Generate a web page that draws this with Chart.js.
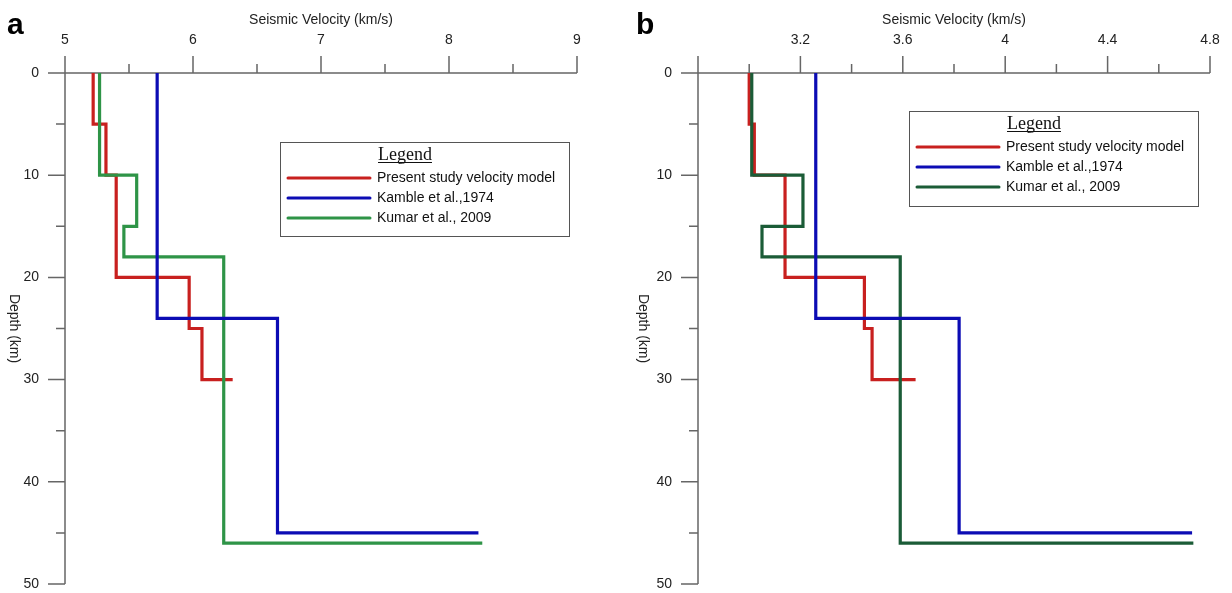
<!DOCTYPE html>
<html><head><meta charset="utf-8">
<script src="https://cdn.jsdelivr.net/npm/chart.js@4.4.1/dist/chart.umd.min.js"></script>
<style>
html,body{margin:0;padding:0;background:#fff;width:1232px;height:593px;overflow:hidden}
canvas{position:absolute;top:0}
#ca{left:0}
#cb{left:616px}
</style></head><body>
<canvas id="ca" width="616" height="593"></canvas>
<canvas id="cb" width="616" height="593"></canvas>
<script>
// ---- Data: layer top depths (km) and velocities (km/s); last velocity = half-space stub ----
const aPresentDepth = [0, 5, 10, 20, 25, 30];
const aPresentVel   = [5.22, 5.32, 5.40, 5.97, 6.07, 6.31];
const aKambleDepth  = [0, 24, 45];
const aKambleVel    = [5.72, 6.66, 8.23];
const aKumarDepth   = [0, 10, 15, 18, 46];
const aKumarVel     = [5.27, 5.56, 5.46, 6.24, 8.26];

const bPresentDepth = [0, 5, 10, 20, 25, 30];
const bPresentVel   = [3.00, 3.02, 3.14, 3.45, 3.48, 3.65];
const bKambleDepth  = [0, 24, 45];
const bKambleVel    = [3.26, 3.82, 4.73];
const bKumarDepth   = [0, 10, 15, 18, 46];
const bKumarVel     = [3.01, 3.21, 3.05, 3.59, 4.735];

const seriesNames = ['Present study velocity model', 'Kamble et al.,1974', 'Kumar et al., 2009'];
const aXTickLabels = [5, 6, 7, 8, 9];
const bXTickLabels = [3.2, 3.6, 4, 4.4, 4.8];
const depthTickLabels = [0, 10, 20, 30, 40, 50];

function stepPoints(depths, vels) {
  const pts = [];
  for (let i = 0; i < depths.length - 1; i++) {
    pts.push({x: vels[i], y: depths[i]});
    pts.push({x: vels[i], y: depths[i + 1]});
  }
  const n = depths.length - 1;
  pts.push({x: vels[n], y: depths[n]});
  return pts;
}

Chart.defaults.font.family = '"Liberation Sans", Arial, sans-serif';
Chart.defaults.font.size = 14;
Chart.defaults.color = '#222';

const AXIS_COLOR = '#666';

const axesPlugin = {
  id: 'axesDraw',
  beforeDatasetsDraw(chart, args, o) {
    const ctx = chart.ctx, ca = chart.chartArea;
    const xs = chart.scales.x, ys = chart.scales.y;
    ctx.save();
    ctx.strokeStyle = AXIS_COLOR;
    ctx.lineWidth = 1.5;
    ctx.beginPath();
    ctx.moveTo(ca.left, ca.top); ctx.lineTo(ca.right, ca.top);
    ctx.moveTo(ca.left, ca.top); ctx.lineTo(ca.left, ca.bottom);
    xs.ticks.forEach((t, i) => {
      const px = xs.getPixelForValue(t.value);
      const len = i % 2 === 0 ? 17 : 9;
      ctx.moveTo(px, ca.top); ctx.lineTo(px, ca.top - len);
    });
    ys.ticks.forEach((t, i) => {
      const py = ys.getPixelForValue(t.value);
      const len = i % 2 === 0 ? 17 : 9;
      ctx.moveTo(ca.left, py); ctx.lineTo(ca.left - len, py);
    });
    ctx.stroke();
    // y-axis title, rotated clockwise
    ctx.fillStyle = '#222';
    ctx.font = '14px "Liberation Sans", Arial, sans-serif';
    ctx.translate(o.yTitleX, (ca.top + ca.bottom) / 2);
    ctx.rotate(Math.PI / 2);
    ctx.textAlign = 'center';
    ctx.textBaseline = 'middle';
    ctx.fillText('Depth (km)', 0, 0);
    ctx.restore();
    // panel letter
    ctx.save();
    ctx.fillStyle = '#000';
    ctx.font = 'bold 30px "Liberation Sans", Arial, sans-serif';
    ctx.textAlign = 'left';
    ctx.textBaseline = 'alphabetic';
    ctx.fillText(o.letter, o.letterX, o.letterY);
    ctx.restore();
  }
};

const legendPlugin = {
  id: 'boxLegend',
  afterDatasetsDraw(chart, args, o) {
    const ctx = chart.ctx;
    const x = o.x, y = o.y;
    ctx.save();
    ctx.fillStyle = '#fff';
    ctx.fillRect(x, y, o.w, o.h);
    ctx.strokeStyle = '#555';
    ctx.lineWidth = 1;
    ctx.strokeRect(x + 0.5, y + 0.5, o.w, o.h);
    ctx.fillStyle = '#111';
    ctx.font = '18px "Liberation Serif", "Times New Roman", serif';
    ctx.textAlign = 'center';
    ctx.textBaseline = 'alphabetic';
    const tx = x + 125, ty = y + 18;
    ctx.fillText('Legend', tx, ty);
    const tw = ctx.measureText('Legend').width;
    ctx.strokeStyle = '#111';
    ctx.beginPath();
    ctx.moveTo(tx - tw / 2, ty + 2.5); ctx.lineTo(tx + tw / 2, ty + 2.5);
    ctx.stroke();
    ctx.font = '14px "Liberation Sans", Arial, sans-serif';
    ctx.textAlign = 'left';
    ctx.textBaseline = 'middle';
    chart.data.datasets.forEach((ds, i) => {
      const ry = y + 36 + i * 20;
      ctx.strokeStyle = ds.borderColor;
      ctx.lineWidth = 3;
      ctx.lineCap = 'round';
      ctx.beginPath();
      ctx.moveTo(x + 8, ry); ctx.lineTo(x + 90, ry);
      ctx.stroke();
      ctx.fillStyle = '#111';
      ctx.fillText(ds.label, x + 97, ry);
    });
    ctx.restore();
  }
};

function makeChart(id, sets, colors, cfg) {
  const datasets = sets.map((s, i) => ({
    label: seriesNames[i],
    data: stepPoints(s[0], s[1]),
    borderColor: colors[i],
    borderWidth: 3.2,
    pointRadius: 0,
    showLine: true,
    tension: 0,
    fill: false,
    borderJoinStyle: 'miter',
    borderCapStyle: 'butt',
    order: [3, 1, 2][i]
  }));
  const pad = {left: 0, right: cfg.area.right0, top: 0, bottom: 9};
  const dims = {yWidth: cfg.area.left, xHeight: cfg.area.top};
  const chart = new Chart(document.getElementById(id), {
    type: 'scatter',
    data: {datasets},
    options: {
      responsive: false,
      animation: false,
      devicePixelRatio: 1,
      layout: {padding: pad},
      plugins: {
        legend: {display: false},
        tooltip: {enabled: false},
        axesDraw: cfg.axes,
        boxLegend: cfg.legend
      },
      scales: {
        x: {
          type: 'linear', position: 'top',
          min: cfg.xMin, max: cfg.xMax,
          grid: {display: true, drawOnChartArea: false, drawTicks: true, tickLength: 24, tickColor: 'rgba(0,0,0,0)'},
          border: {display: false},
          ticks: {
            stepSize: cfg.xStep, autoSkip: false, maxRotation: 0, padding: 0,
            callback: (v) => {
              const l = cfg.xLabels.find(q => Math.abs(q - v) < 1e-6);
              return l === undefined ? '' : String(l);
            }
          },
          title: {display: true, text: 'Seismic Velocity (km/s)', padding: {top: 12, bottom: 0}, font: {size: 14}},
          afterFit: (s) => { s.height = dims.xHeight; }
        },
        y: {
          type: 'linear', reverse: true, min: 0, max: 50,
          grid: {display: true, drawOnChartArea: false, drawTicks: true, tickLength: 26, tickColor: 'rgba(0,0,0,0)'},
          border: {display: false},
          ticks: {
            stepSize: 5, autoSkip: false, padding: 0,
            callback: (v) => depthTickLabels.includes(v) ? String(v) : ''
          },
          afterFit: (s) => { s.width = dims.yWidth; }
        }
      }
    },
    plugins: [axesPlugin, legendPlugin]
  });
  // nudge the layout so the plot area sits where the reference has it
  for (let k = 0; k < 3; k++) {
    const ca = chart.chartArea;
    const dl = cfg.area.left - ca.left, dt = cfg.area.top - ca.top;
    const dr = ca.right - cfg.area.right, db = ca.bottom - cfg.area.bottom;
    if (!dl && !dt && !dr && !db) break;
    dims.yWidth += dl;
    dims.xHeight += dt;
    pad.right += dr;
    pad.bottom += db;
    chart.options.layout.padding = Object.assign({}, pad);
    chart.update();
  }
  return chart;
}

makeChart('ca',
  [[aPresentDepth, aPresentVel], [aKambleDepth, aKambleVel], [aKumarDepth, aKumarVel]],
  ['#c8201f', '#0c0cb4', '#2e9447'],
  {area: {left: 65, top: 73, right: 577, bottom: 584, right0: 39},
   xMin: 5, xMax: 9, xStep: 0.5, xLabels: aXTickLabels,
   axes: {yTitleX: 14, letter: 'a', letterX: 7, letterY: 34},
   legend: {x: 280, y: 142, w: 289, h: 94}});

makeChart('cb',
  [[bPresentDepth, bPresentVel], [bKambleDepth, bKambleVel], [bKumarDepth, bKumarVel]],
  ['#c8201f', '#0c0cb4', '#1b5c37'],
  {area: {left: 82, top: 73, right: 594, bottom: 584, right0: 22},
   xMin: 2.8, xMax: 4.8, xStep: 0.2, xLabels: bXTickLabels,
   axes: {yTitleX: 27, letter: 'b', letterX: 20, letterY: 34},
   legend: {x: 293, y: 111, w: 289, h: 95}});
</script>
</body></html>
